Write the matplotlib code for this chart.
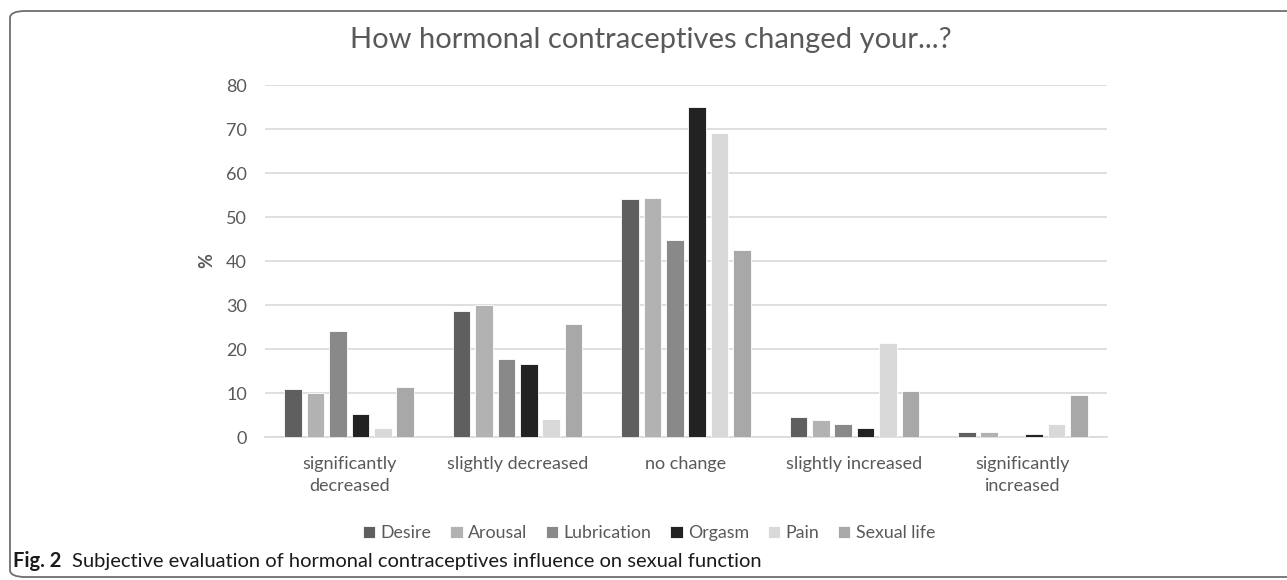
import matplotlib
matplotlib.use("Agg")
import matplotlib.pyplot as plt
import numpy as np
from matplotlib.patches import FancyBboxPatch

categories = ["significantly\ndecreased", "slightly decreased", "no change",
              "slightly increased", "significantly\nincreased"]
series_names = ["Desire", "Arousal", "Lubrication", "Orgasm", "Pain", "Sexual life"]
desire = [11.0, 28.6, 54.2, 4.6, 1.1]
arousal = [10.0, 30.0, 54.4, 3.8, 1.1]
lubrication = [24.0, 17.8, 44.8, 2.9, 0.0]
orgasm = [5.2, 16.5, 75.0, 2.0, 0.7]
pain = [2.1, 4.2, 69.0, 21.3, 2.9]
sexual_life = [11.4, 25.7, 42.4, 10.5, 9.5]
series_values = [desire, arousal, lubrication, orgasm, pain, sexual_life]
colors = ["#5f5f5f", "#b2b2b2", "#898989", "#222222", "#d9d9d9", "#a8a8a8"]
yticks = [0, 10, 20, 30, 40, 50, 60, 70, 80]

plt.rcParams['font.family'] = ['Lato', 'DejaVu Sans']

W, H = 1287, 580
fig = plt.figure(figsize=(W / 100, H / 100), dpi=100)

# frame
frame = FancyBboxPatch((10 / W, 3 / H), 1.1, (H - 14) / H,
                       boxstyle="round,pad=0,rounding_size=0.012",
                       transform=fig.transFigure, fill=False,
                       edgecolor="#6e6e6e", linewidth=1.3, clip_on=False)
fig.patches.append(frame)

ax = fig.add_axes([265 / W, 1 - 437 / H, (1107 - 265) / W, (437 - 85) / H])
x = np.arange(len(categories))
pitch = 0.133
width = 0.104
for i, (name, vals, c) in enumerate(zip(series_names, series_values, colors)):
    offs = (i - 2.5) * pitch
    ax.bar(x + offs, vals, width, color=c, label=name,
           edgecolor="#ffffff", linewidth=0.6, zorder=3)

tick_color = "#595959"
ax.set_ylim(0, 80)
ax.set_xlim(-0.5, len(categories) - 0.5)
ax.set_yticks(yticks)
ax.set_yticklabels([str(v) for v in yticks], fontsize=13, color=tick_color)
ax.set_xticks(x)
ax.set_xticklabels(categories, fontsize=13, color=tick_color, linespacing=1.45)
ax.tick_params(axis='both', length=0)
ax.tick_params(axis='y', pad=13)
ax.tick_params(axis='x', pad=14)
ax.grid(axis='y', color="#d9d9d9", linewidth=1.2, zorder=0)
ax.set_axisbelow(True)
for s in ["top", "right", "left"]:
    ax.spines[s].set_visible(False)
ax.spines["bottom"].set_color("#d9d9d9")
ax.spines["bottom"].set_linewidth(1.2)
ax.set_ylabel("%", fontsize=13, color=tick_color, fontweight="bold", labelpad=8)

fig.text(651 / W, 1 - 40 / H, "How hormonal contraceptives changed your...?",
         ha="center", va="center", fontsize=21, color=tick_color)

ax.legend(loc="center", bbox_to_anchor=(649 / W, 1 - 533 / H),
          bbox_transform=fig.transFigure, ncol=6, frameon=False,
          fontsize=12.8, handlelength=0.7, handleheight=0.7,
          handletextpad=0.3, columnspacing=1.05, labelcolor=tick_color)

fig.text(13 / W, 1 - 561 / H, "Fig. 2", ha="left", va="center",
         fontsize=14.5, fontweight="bold", color="#1a1a1a")
fig.text(72 / W, 1 - 561 / H,
         "Subjective evaluation of hormonal contraceptives influence on sexual function",
         ha="left", va="center", fontsize=14.5, color="#1a1a1a")

fig.savefig("out.png", dpi=100)
